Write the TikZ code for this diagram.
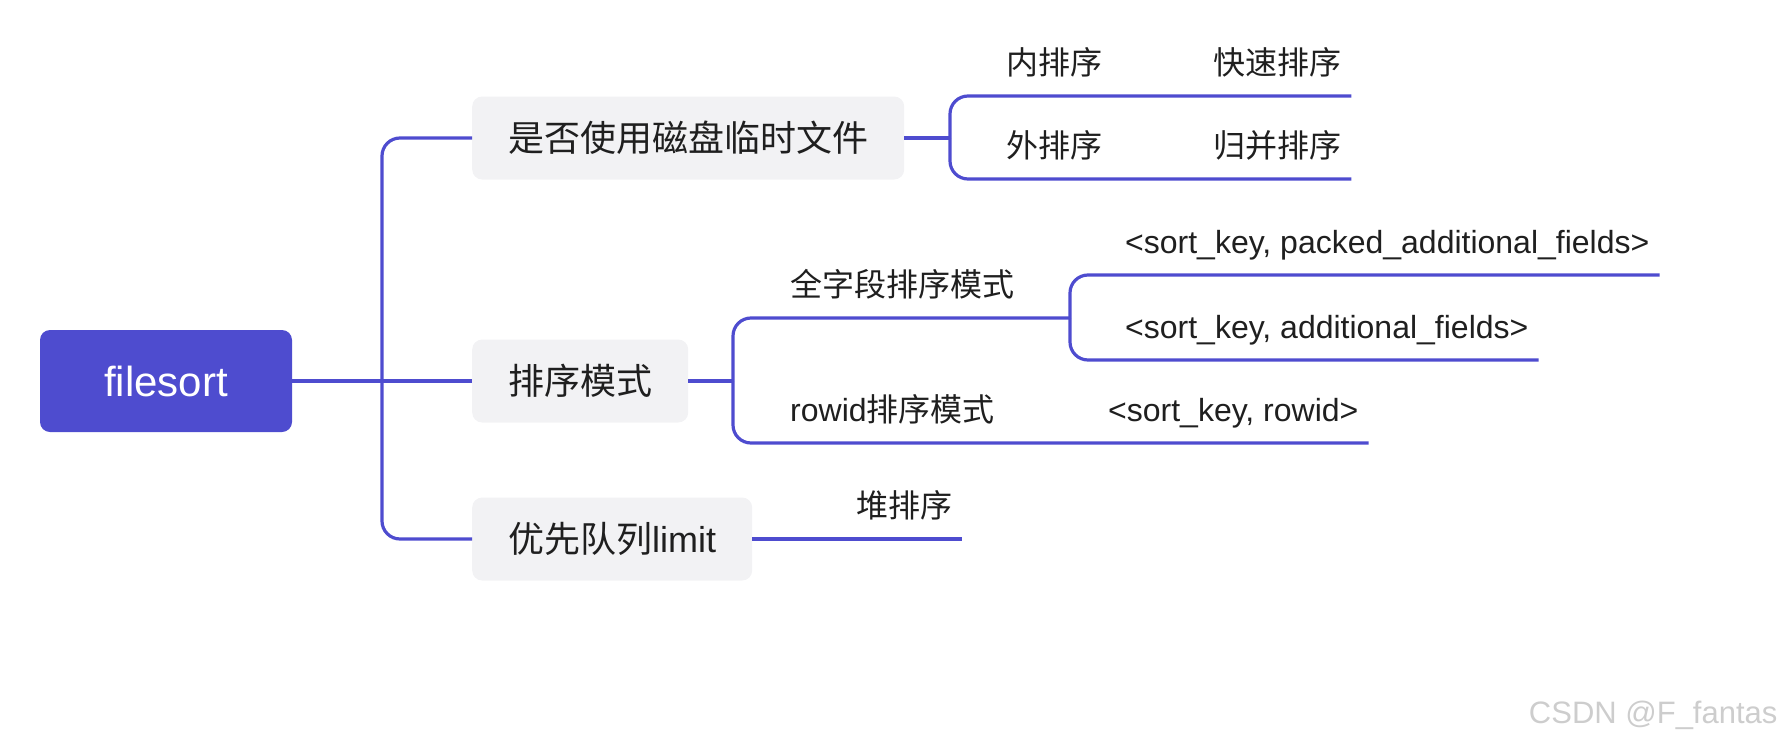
\documentclass[tikz,border=0pt]{standalone}
\usepackage{fontspec}
\setmainfont{Liberation Sans}
\newfontfamily\cjk{Noto Sans CJK SC}
\usetikzlibrary{positioning, calc}
\definecolor{mapblue}{HTML}{4E4CCF}
\definecolor{mapgray}{HTML}{F2F2F4}
\definecolor{maptext}{HTML}{1F1F1F}
\definecolor{markgray}{HTML}{CDCDCD}

\begin{document}
\begin{tikzpicture}[x=1pt, y=-1pt,
  link/.style={mapblue, line width=3.2pt},
  elbow/.style={link, rounded corners=18pt},
  topic/.style={fill=mapgray, rounded corners=10pt, anchor=west,
    inner xsep=36pt, minimum height=83pt, text=maptext,
    font=\fontsize{36}{40}\selectfont},
  leaf/.style={anchor=south west, inner xsep=10pt, inner ysep=0pt,
    text depth=21pt, text=maptext, font=\fontsize{32}{36}\selectfont}]
  \useasboundingbox (0,0) rectangle (1788,744);

  % Root
  \node[fill=mapblue, rounded corners=10pt, minimum width=252pt,
    minimum height=102pt, text=white, font=\fontsize{42}{46}\selectfont]
    (root) at (166,381) {filesort};

  % First level
  \node[topic] (disk) at (472,138) {\cjk 是否使用磁盘临时文件};
  \node[topic] (mode) at (472,381) {\cjk 排序模式};
  \node[topic] (queue) at (472,539) {{\cjk 优先队列}limit};

  \coordinate (spine) at (382,381);
  \draw[link] (root.east) -- (mode.west);
  \draw[elbow] (disk.west) -| (spine) |- (queue.west);

  % Disk temp file
  \coordinate (j1) at (950,138);
  \node[leaf] (inner) at (996,96) {\cjk 内排序};
  \node[leaf] (quick) at (1203,96) {\cjk 快速排序};
  \node[leaf] (outer) at (996,179) {\cjk 外排序};
  \node[leaf] (merge) at (1203,179) {\cjk 归并排序};
  \draw[link] (disk.east) -- (j1);
  \draw[elbow] (j1) |- (inner.south west) -- (quick.south east);
  \draw[elbow] (j1) |- (outer.south west) -- (merge.south east);

  % Sort modes
  \coordinate (j2) at (733,381);
  \coordinate (j3) at (1070,318);
  \node[leaf] (full) at (780,318) {\cjk 全字段排序模式};
  \node[leaf] (packed) at (1115,275) {<sort\_key, packed\_additional\_fields>};
  \node[leaf] (addl) at (1115,360) {<sort\_key, additional\_fields>};
  \node[leaf] (rowid) at (780,443) {rowid{\cjk 排序模式}};
  \node[leaf] (tuple) at (1098,443) {<sort\_key, rowid>};
  \draw[link] (mode.east) -- (j2);
  \draw[elbow] (j2) |- (full.south west) -- (j3);
  \draw[elbow] (j3) |- (packed.south west) -- (packed.south east);
  \draw[elbow] (j3) |- (addl.south west) -- (addl.south east);
  \draw[elbow] (j2) |- (rowid.south west) -- (tuple.south east);

  % Priority queue
  \node[leaf] (heap) at (846,539) {\cjk 堆排序};
  \draw[link] (queue.east) -- (heap.south east);

  % Watermark
  \node[anchor=east, text=markgray, font=\fontsize{31}{34}\selectfont]
    (mark) at (1781,715) {CSDN @F\_fantas};
\end{tikzpicture}
\end{document}
